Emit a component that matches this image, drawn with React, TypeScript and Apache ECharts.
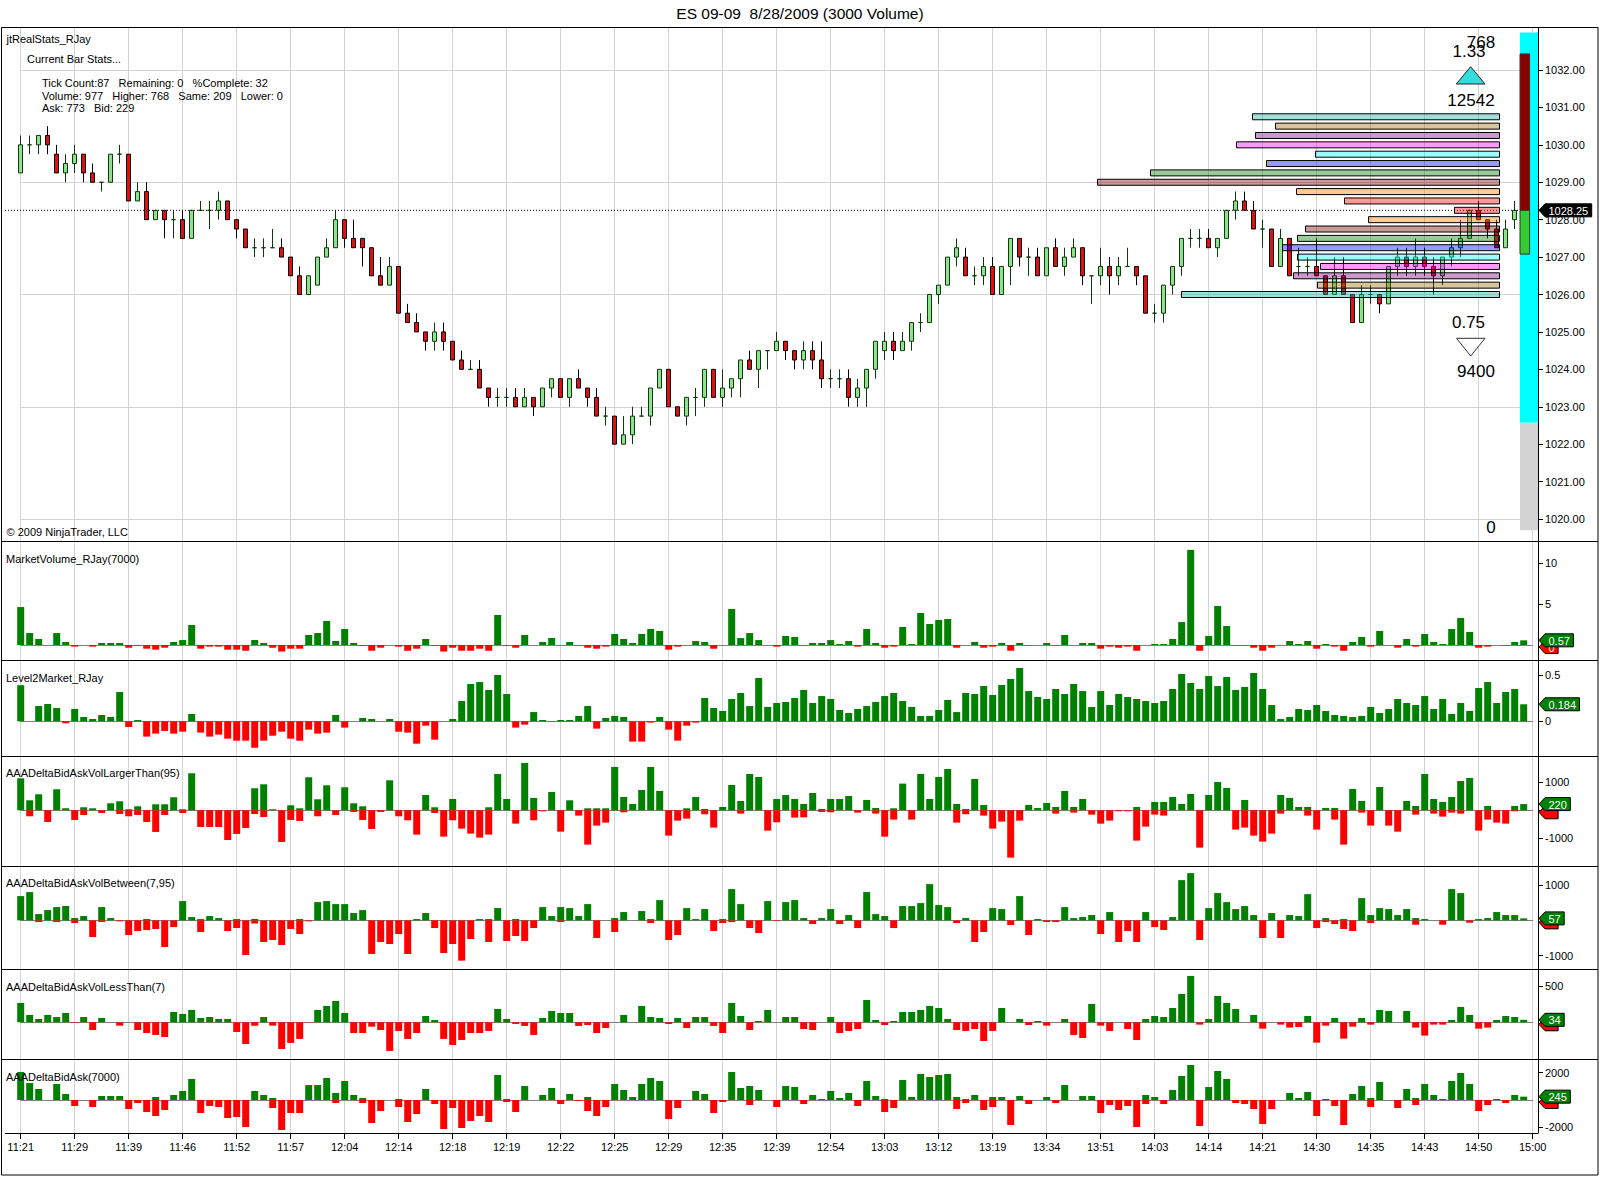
import React, { useEffect, useRef } from "react";
import * as echarts from "echarts";

// ---------- data ----------
const timeLabels = [
  "11:21", "11:29", "11:39", "11:46", "11:52", "11:57", "12:04", "12:14", "12:18", "12:19",
  "12:22", "12:25", "12:29", "12:35", "12:39", "12:54", "13:03", "13:12", "13:19", "13:34",
  "13:51", "14:03", "14:14", "14:21", "14:30", "14:35", "14:43", "14:50", "15:00",
];
const SLOT_COUNT = 169; // bar slots incl. the empty right-most one
const LABEL_EVERY = 6;

// [open, close, low, high]
const candles = [
  [1029.25,1030,1029.25,1030.25],[1030,1030,1029.75,1030.25],[1030,1030.25,1029.75,1030.25],[1030.25,1030,1029.75,1030.5],[1029.75,1029.25,1029.25,1030],
  [1029.25,1029.5,1029,1029.75],[1029.5,1029.75,1029.25,1030],[1029.75,1029.25,1029,1029.75],[1029.25,1029,1029,1029.5],[1029,1029,1028.75,1029],
  [1029,1029.75,1029,1029.75],[1029.75,1029.75,1029.5,1030],[1029.75,1028.5,1028.5,1029.75],[1028.5,1028.75,1028.5,1029],[1028.75,1028,1028,1029],
  [1028,1028.25,1028,1028.25],[1028.25,1028,1027.5,1028.25],[1028,1028,1027.5,1028.25],[1028,1027.5,1027.5,1028.25],[1027.5,1028.25,1027.5,1028.25],
  [1028.25,1028.25,1028.25,1028.5],[1028.25,1028.25,1027.75,1028.5],[1028.25,1028.5,1028,1028.75],[1028.5,1028,1028,1028.5],[1028,1027.75,1027.5,1028],
  [1027.75,1027.25,1027.25,1027.75],[1027.25,1027.25,1027,1027.5],[1027.25,1027.25,1027,1027.5],[1027.25,1027.25,1027.25,1027.75],[1027.25,1027,1027,1027.5],
  [1027,1026.5,1026.5,1027],[1026.5,1026,1026,1026.75],[1026,1026.5,1026,1026.5],[1026.25,1027,1026.25,1027],[1027,1027.25,1027,1027.5],
  [1027.25,1028,1027.25,1028.25],[1028,1027.5,1027.25,1028],[1027.5,1027.25,1027.25,1028],[1027.5,1027.25,1026.75,1027.5],[1027.25,1026.5,1026.5,1027.25],
  [1026.5,1026.25,1026.25,1027],[1026.25,1026.75,1026.25,1027],[1026.75,1025.5,1025.5,1026.75],[1025.5,1025.25,1025.25,1025.75],[1025.25,1025,1025,1025.5],
  [1025,1024.75,1024.5,1025],[1024.75,1025,1024.5,1025.25],[1025,1024.75,1024.5,1025.25],[1024.75,1024.25,1024.25,1024.75],[1024.25,1024,1024,1024.5],
  [1024,1024,1024,1024.25],[1024,1023.5,1023.5,1024.25],[1023.5,1023.25,1023,1023.5],[1023.25,1023.25,1023,1023.5],[1023.25,1023.25,1023,1023.5],
  [1023.25,1023,1023,1023.5],[1023,1023.25,1023,1023.5],[1023.25,1023,1022.75,1023.25],[1023,1023.5,1023,1023.5],[1023.5,1023.75,1023.25,1023.75],
  [1023.75,1023.25,1023.25,1023.75],[1023.25,1023.75,1023,1023.75],[1023.75,1023.5,1023.5,1024],[1023.5,1023.25,1023,1023.5],[1023.25,1022.75,1022.75,1023.5],
  [1022.75,1022.75,1022.5,1023],[1022.75,1022,1022,1022.75],[1022,1022.25,1022,1022.75],[1022.25,1022.75,1022,1023],[1022.75,1022.75,1022.75,1023],
  [1022.75,1023.5,1022.5,1023.5],[1023.5,1024,1023.5,1024],[1024,1023,1023,1024],[1023,1022.75,1022.75,1023],[1022.75,1023.25,1022.5,1023.25],
  [1023.25,1023.25,1022.75,1023.5],[1023.25,1024,1023,1024],[1024,1023.25,1023.25,1024],[1023.25,1023.5,1023,1024],[1023.5,1023.75,1023.25,1023.75],
  [1023.75,1024.25,1023.25,1024.25],[1024.25,1024,1024,1024.5],[1024,1024.5,1023.5,1024.5],[1024.5,1024.5,1024,1024.5],[1024.5,1024.75,1024.5,1025],
  [1024.75,1024.5,1024.25,1024.75],[1024.5,1024.25,1024,1024.5],[1024.25,1024.5,1024,1024.75],[1024.5,1024.25,1024,1024.75],[1024.25,1023.75,1023.5,1024.75],
  [1023.75,1023.75,1023.5,1024],[1023.75,1023.75,1023.5,1024],[1023.75,1023.25,1023,1024],[1023.25,1023.5,1023,1023.75],[1023.5,1024,1023,1024],
  [1024,1024.75,1023.75,1024.75],[1024.5,1024.75,1024.25,1025],[1024.75,1024.5,1024.25,1025],[1024.5,1024.75,1024.5,1025],[1024.75,1025.25,1024.5,1025.25],
  [1025.25,1025.25,1025,1025.5],[1025.25,1026,1025.25,1026],[1026,1026.25,1025.75,1026.25],[1026.25,1027,1026.25,1027],[1027,1027.25,1026.75,1027.5],
  [1027,1026.5,1026.5,1027.25],[1026.5,1026.5,1026.25,1026.75],[1026.5,1026.75,1026.25,1027],[1026.75,1026,1026,1027],[1026,1026.75,1026,1026.75],
  [1026.75,1027.5,1026.25,1027.5],[1027.5,1027,1026.75,1027.5],[1027,1027,1026.5,1027.25],[1027,1026.5,1026.5,1027.25],[1026.5,1027.25,1026.5,1027.25],
  [1027.25,1026.75,1026.75,1027.5],[1026.75,1027,1026.5,1027.25],[1027,1027.25,1027,1027.5],[1027.25,1026.5,1026.25,1027.25],[1026.5,1026.5,1025.75,1026.5],
  [1026.5,1026.75,1026.25,1027.25],[1026.75,1026.5,1026,1027],[1026.5,1026.75,1026.25,1027],[1026.75,1026.75,1026.75,1027.25],[1026.75,1026.5,1026.25,1026.75],
  [1026.5,1025.5,1025.5,1026.5],[1025.5,1025.5,1025.25,1025.75],[1025.5,1026.25,1025.25,1026.25],[1026.25,1026.75,1026,1026.75],[1026.75,1027.5,1026.5,1027.5],
  [1027.5,1027.5,1027.25,1027.75],[1027.5,1027.5,1027.25,1027.75],[1027.5,1027.25,1027.25,1027.75],[1027.25,1027.5,1027,1027.5],[1027.5,1028.25,1027.5,1028.25],
  [1028.25,1028.5,1028,1028.75],[1028.5,1028.25,1028.25,1028.75],[1028.25,1027.75,1027.75,1028.5],[1027.75,1027.75,1027.25,1028],[1027.75,1026.75,1026.75,1027.75],
  [1026.75,1027.5,1026.75,1027.75],[1027.5,1026.5,1026.5,1027.5],[1026.75,1026.75,1026.5,1027.25],[1026.75,1026.75,1026.5,1027],[1026.75,1026.5,1026.5,1027.5],
  [1026.5,1026,1026,1026.5],[1026,1026.5,1026,1027],[1026.5,1026,1026,1027],[1026,1025.25,1025.25,1026],[1025.25,1026,1025.25,1026.25],
  [1026,1026,1025.75,1026.25],[1026,1025.75,1025.5,1026],[1025.75,1026.75,1025.75,1026.75],[1026.75,1027,1026.5,1027.25],[1027,1026.75,1026.5,1027.25],
  [1026.75,1027,1026.5,1027.5],[1027,1026.75,1026.5,1027.25],[1026.75,1026.5,1026,1027],[1026.5,1027,1026.25,1027],[1027,1027.25,1026.75,1027.5],
  [1027.25,1027.5,1027,1028],[1027.5,1028.25,1027.5,1028.25],[1028.25,1028,1028,1028.5],[1028,1027.75,1027.5,1028],[1027.75,1027.25,1027.25,1028],
  [1027.25,1027.75,1027.25,1028],[1028,1028.25,1027.75,1028.5],[1028.25,1028.25,1028.25,1028.25],
];
const lastPrice = 1028.25;

// volume-at-price profile (bottom -> top)
const profilePrices = [1026,1026.25,1026.5,1026.75,1027,1027.25,1027.5,1027.75,1028,1028.25,1028.5,1028.75,1029,1029.25,1029.5,1029.75,1030,1030.25,1030.5,1030.75];
const profileVolumes = [318,182,206,179,202,217,202,194,131,45,155,203,402,349,233,184,263,244,224,247];

// jtRealStats vertical gauge (price levels)
const gaugeTop = 1033.0;
const gaugeSplit = 1022.57;
const gaugeBottom = 1019.7;
const gaugeUpperTop = 1032.43;
const gaugeLowerBottom = 1027.08;

// indicator panels
const marketVolume = [
  4.63,1.46,0.73,0,1.46,0.37,-0.2,0,-0.2,0.25,
  0.25,0.25,-0.33,-0.08,-0.45,-0.57,-0.33,0.37,0.6,2.44,
  -0.45,-0.2,-0.2,-0.57,-0.57,-0.7,0.6,0.25,-0.33,-0.8,
  -0.45,-0.45,1.22,1.46,2.93,0.49,1.95,0.25,-0.08,-0.7,
  -0.33,0,-0.2,-0.7,-0.45,0.73,-0.08,-0.8,-0.33,-0.7,
  -0.7,-0.45,-0.7,3.66,-0.08,-0.33,1.22,0,0.37,0.85,
  0,0.37,-0.05,-0.33,-0.45,-0.2,1.34,0.73,0.25,1.34,
  1.95,1.71,-0.57,-0.2,0,0.49,0.37,-0.45,0,4.39,
  0.85,1.46,0.6,0,-0.2,1.1,0.98,-0.05,0.25,0.25,
  0.6,0.12,0.49,-0.2,1.95,0.25,-0.33,-0.2,2.2,0.12,
  3.9,2.56,3.05,3.17,-0.33,0,0.37,-0.33,-0.2,0.25,
  -0.7,0.25,-0.05,0,0.25,-0.05,1.22,0,0.25,0.25,
  -0.45,-0.2,-0.33,-0.2,-0.7,0,0.12,0.12,0.73,2.8,
  11.6,-0.7,1.1,4.76,2.32,-0.05,-0.05,-0.33,-0.7,-0.33,
  0,0.49,0.12,0.49,-0.45,0.12,-0.2,-0.7,0.37,0.98,
  -0.2,1.71,0,-0.33,0.73,-0.2,1.34,0.37,0.12,1.95,
  3.29,1.59,-0.33,-0.2,0,-0.05,0.37,0.57,
];
const level2 = [
  0.39,0,0.165,0.187,0.144,-0.022,0.133,0.047,0.025,0.068,
  0.047,0.317,-0.061,0.014,-0.165,-0.133,-0.104,-0.133,-0.112,0.079,
  -0.122,-0.165,-0.144,-0.187,-0.209,-0.209,-0.284,-0.209,-0.155,-0.112,
  -0.187,-0.209,-0.09,-0.133,-0.122,0.068,-0.068,0,0.036,0.025,
  0,0.025,-0.112,-0.122,-0.241,-0.047,-0.198,0,0.025,0.219,
  0.403,0.424,0.338,0.5,0.295,-0.068,-0.036,0.1,0.014,-0.005,
  0.014,0.014,0.058,0.165,-0.079,0.036,0.058,0.047,-0.219,-0.219,
  -0.014,0.047,-0.09,-0.209,-0.047,-0.014,0.252,0.144,0.112,0.241,
  0.306,0.165,0.468,0.155,0.198,0.209,0.252,0.338,0.198,0.273,
  0.241,0.122,0.09,0.133,0.165,0.209,0.273,0.306,0.219,0.155,
  0.058,0.058,0.122,0.23,0.1,0.306,0.295,0.381,0.284,0.392,
  0.457,0.576,0.327,0.263,0.241,0.349,0.295,0.403,0.327,0.155,
  0.327,0.176,0.295,0.263,0.241,0.219,0.198,0.219,0.349,0.511,
  0.414,0.349,0.489,0.381,0.478,0.338,0.371,0.522,0.349,0.176,
  0.025,0.047,0.133,0.122,0.176,0.112,0.068,0.058,0.047,0.058,
  0.155,0.09,0.133,0.241,0.198,0.176,0.273,0.133,0.241,0.079,
  0.198,0.112,0.36,0.424,0.198,0.317,0.349,0.184,
];
const largerPos = [
  1136,355,568,0,746,71,0,107,71,0, 249,320,36,142,0,213,213,462,36,1314,
  0,0,0,0,0,0,781,923,36,0, 178,71,1172,391,888,0,817,249,142,0,
  0,1065,0,0,0,544,107,0,402,0, 0,0,107,1290,402,0,1680,438,0,651,
  0,355,0,71,71,71,1538,473,225,722, 1538,686,0,0,71,473,47,0,118,899,
  331,1290,1183,0,402,544,402,225,615,47, 402,402,509,0,367,83,0,71,947,0,
  1290,402,1183,1467,225,47,1112,189,0,0, 0,0,189,83,260,118,686,118,402,0,
  0,0,0,0,118,0,296,296,473,225, 580,0,544,1006,793,0,367,0,0,0,
  544,438,118,118,0,83,83,0,757,331, 0,828,0,0,331,154,1290,402,296,473,
  1041,1148,0,154,0,0,154,220,
];
const largerNeg = [
  0,-213,0,-414,0,0,-343,-166,0,-95, 0,-130,-213,-166,-414,-769,-166,0,-95,0,
  -592,-592,-592,-1054,-840,-627,-130,-237,0,-1124, -343,-379,0,-213,0,-166,0,-59,-343,-663,
  -59,0,-213,-355,-864,0,-95,-935,-355,-651, -828,-970,-864,0,0,-473,0,-355,-36,0,
  -757,0,-189,-1219,-544,-438,0,-71,0,0, 0,0,-899,-367,-296,0,-142,-615,0,0,
  -118,0,0,-722,-426,0,-260,-249,0,-59, -71,0,0,-83,0,-118,-935,-331,0,-331,
  0,0,0,0,-438,-142,0,-189,-651,-402, -1680,-367,0,0,0,-118,0,-83,0,-154,
  -473,-367,-36,-36,-1077,-580,-154,-189,0,0, 0,-1325,0,0,0,-686,-615,-899,-1112,-828,
  -118,0,0,-189,-686,0,-331,-1219,0,-83, -544,0,-544,-757,0,-154,0,-118,-225,-83,
  -118,0,-722,-331,-438,-473,-36,0,
];
const betweenPos = [
  689,802,179,292,377,406,66,123,0,377, 66,0,0,0,38,0,0,0,547,94,
  38,123,66,0,38,0,38,0,0,0, 0,38,0,519,547,462,462,208,292,0,
  0,0,0,0,38,208,0,0,0,0, 0,38,38,349,0,38,0,0,377,123,
  377,349,123,462,0,0,66,236,0,264, 38,575,0,0,349,38,321,0,38,887,
  462,0,0,547,0,519,575,66,0,66, 321,0,151,0,802,179,123,0,406,406,
  491,1028,434,377,0,66,0,0,349,321, 0,689,0,38,0,0,377,66,94,151,
  0,236,0,0,0,236,0,0,94,1142, 1340,0,349,774,519,321,406,151,0,208,
  0,151,123,745,0,66,0,38,0,632, 151,349,321,151,321,66,38,0,0,887,
  774,0,38,66,236,151,151,57,
];
const betweenNeg = [
  0,0,-47,0,-47,0,-75,0,-472,-47, 0,-28,-415,-302,-274,-245,-755,-189,0,0,
  -330,0,0,-302,-217,-981,-85,-613,-557,-698, -245,-387,-28,0,0,0,0,0,0,-953,
  -613,-670,-387,-953,0,0,-217,-925,-670,-1142, -528,0,-613,0,-585,-443,-585,-217,0,0,
  -47,0,0,0,-500,0,-330,0,0,0, -75,0,-557,-415,0,0,0,-302,-75,-47,
  0,-217,-358,0,-19,0,0,0,-104,0, 0,-104,0,-217,0,0,0,-217,0,0,
  0,0,0,0,-75,0,-613,-330,0,0, -132,0,-415,0,-47,-47,0,0,0,0,
  -387,0,-613,-302,-613,0,-189,-274,0,0, 0,-557,0,0,0,0,0,0,-500,0,
  -500,0,0,0,-217,-47,-104,-245,-302,0, -75,0,0,0,0,-123,0,0,-123,0,
  0,-66,0,0,0,0,0,0,
];
const lessThan = [
  266,101,46,101,73,128,-9,73,-106,60, 0,-46,0,-106,-147,-174,-202,142,115,170,
  60,73,46,46,-133,-298,-46,73,-46,-367, -284,-229,-5,170,225,294,128,-147,-147,-60,
  -106,-394,-119,-229,-147,87,32,-229,-312,-243, -147,-147,-119,183,46,-23,-50,-174,60,156,
  128,128,-50,-37,-147,-78,0,101,0,225, 73,60,-23,60,-78,73,73,-50,-147,266,
  87,-106,18,170,0,73,73,-92,-106,0, 73,-147,-119,-92,307,32,-37,18,142,142,
  170,225,197,46,-106,-119,-92,-257,-119,197, 0,46,-37,18,-46,0,46,-174,-216,252,
  -46,-119,0,-92,-243,46,87,73,197,390, 638,-32,46,362,266,183,0,101,-87,0,
  -32,-73,-64,87,-280,-46,60,-225,-60,60, -32,170,156,0,156,-73,-183,-32,-32,32,
  211,101,-87,-73,32,87,73,34,
];
const deltaPos = [
  2049,1244,805,0,1171,439,0,0,0,293, 293,293,0,0,0,220,0,366,659,1537,
  0,0,0,0,0,0,659,366,146,0, 0,0,1098,1098,1610,512,1390,366,146,0,
  0,0,73,0,0,805,0,0,0,0, 0,0,0,1829,73,0,1024,0,366,878,
  0,439,0,220,0,0,1171,732,220,1171, 1610,1390,0,0,0,659,439,0,0,2049,
  878,1024,732,0,0,1024,951,0,366,73, 659,146,512,0,1390,293,73,0,1463,220,
  1902,1683,1829,1902,220,73,366,0,220,220, 0,293,0,0,220,0,1098,0,293,293,
  0,0,0,0,0,366,220,0,732,1756, 2561,0,951,2122,1537,0,0,0,0,0,
  0,512,146,585,0,73,0,0,439,1024, 146,1317,0,0,805,146,1171,366,73,1390,
  1976,1171,0,0,73,0,366,245,
];
const deltaNeg = [
  0,0,0,0,0,0,-439,0,-512,0, 0,0,-659,-220,-878,-1171,-732,0,0,0,
  -951,-439,-512,-1317,-1244,-1976,0,0,-585,-2195, -951,-951,0,0,0,-220,0,0,-220,-1683,
  -805,0,-512,-1610,-1024,0,-293,-2122,-585,-2049, -1537,-1171,-1610,0,-146,-878,0,0,0,0,
  -293,0,-73,-805,-1171,-512,0,0,0,0, 0,0,-1390,-585,0,0,0,-951,-146,0,
  0,-366,0,0,-512,0,0,-293,0,0, 0,0,0,-439,0,0,-878,-585,0,0,
  0,0,0,0,-659,-220,0,-732,-512,0, -1829,0,-293,0,0,-220,0,0,0,0,
  -951,-366,-732,-439,-1976,-293,0,-293,0,0, 0,-1902,0,0,0,-220,-293,-659,-1756,-659,
  0,0,0,0,-1171,0,-439,-1829,0,0, -512,0,0,-585,0,-366,0,0,0,0,
  0,0,-805,-366,0,-220,0,0,
];

// ---------- styling / layout ----------
const FONT = '"Liberation Sans", Arial, sans-serif';
const GREEN = "#008000";
const RED = "#ff0000";
const GRID_LEFT = 20.7;
const GRID_RIGHT = 67.3;
const AXIS_X = 1538;
const AXIS_OFFSET = 5.3;
const LABEL_MARGIN = 7;
const profilePalette = [
  "rgba(32,178,170,0.42)", "rgba(153,102,0,0.38)", "rgba(128,0,128,0.4)", "rgba(255,0,255,0.4)", "rgba(0,255,255,0.4)",
  "rgba(0,0,255,0.4)", "rgba(0,128,0,0.4)", "rgba(128,0,0,0.4)", "rgba(255,128,0,0.4)", "rgba(255,0,0,0.4)",
];

type PanelDef = { top: number; height: number; min: number; max: number; labels: number[]; name: string; labelY: number };
const panels: PanelDef[] = [
  { top: 541, height: 119, min: -1.829, max: 12.683, labels: [5, 10], name: "MarketVolume_RJay(7000)", labelY: 559.3 },
  { top: 660, height: 95.5, min: -0.369, max: 0.662, labels: [0, 0.5], name: "Level2Market_RJay", labelY: 678.3 },
  { top: 755.5, height: 110, min: -1960, max: 1945, labels: [-1000, 0, 1000], name: "AAADeltaBidAskVolLargerThan(95)", labelY: 773.3 },
  { top: 865.5, height: 103, min: -1364, max: 1556, labels: [-1000, 1000], name: "AAADeltaBidAskVolBetween(7,95)", labelY: 883.3 },
  { top: 968.5, height: 90, min: -498, max: 740, labels: [500], name: "AAADeltaBidAskVolLessThan(7)", labelY: 986.7 },
  { top: 1058.5, height: 74.5, min: -2414, max: 3036, labels: [-2000, 2000], name: "AAADeltaBidAsk(7000)", labelY: 1076.7 },
];

const categories = Array.from({ length: SLOT_COUNT }, (_, i) => String(i));
const isLabelSlot = (i: number) => i % LABEL_EVERY === 0;

function textW(t: string) {
  let w = 0;
  for (const ch of t) w += ch === "." ? 3.1 : ch === "-" ? 3.7 : 6.1;
  return w;
}

function valueBox(y: number, text: string, fill: string, z: number, showText = true) {
  const w = textW(text) + 7;
  const h = 6.5;
  const children: any[] = [
    {
      type: "polygon",
      z,
      shape: { points: [[0, 0], [6, -h], [6 + w, -h], [6 + w, h], [6, h]] },
      style: { fill, stroke: "#000", lineWidth: 1 },
    },
  ];
  if (showText) {
    children.push({
      type: "text",
      z: z + 1,
      x: 6 + w / 2,
      y: 0.5,
      style: { text, fill: "#fff", font: `11px ${FONT}`, align: "center", verticalAlign: "middle" },
    });
  }
  return { type: "group", x: AXIS_X + 1, y, children };
}

function txt(x: number, y: number, text: string, size = 11, align = "left", color = "#000") {
  return {
    type: "text",
    x,
    y,
    z: 50,
    style: { text, fill: color, font: `${size}px ${FONT}`, align, verticalAlign: "middle" },
  };
}

function hline(x1: number, x2: number, y: number, color = "#000", z = 60) {
  return { type: "line", z, shape: { x1, y1: y, x2, y2: y }, style: { stroke: color, lineWidth: 1 } };
}

export default function App() {
  const ref = useRef<HTMLDivElement>(null);

  useEffect(() => {
    if (!ref.current) return;
    const chart = echarts.init(ref.current, null, { renderer: "svg", width: 1600, height: 1177 });

    const grids: any[] = [
      { left: GRID_LEFT, right: GRID_RIGHT, top: 27, height: 1106 },
      { left: GRID_LEFT, right: GRID_RIGHT, top: 70, height: 449 },
      { left: 999.5, right: 100.5, top: 70, height: 449 },
      ...panels.map((p) => ({ left: GRID_LEFT, right: GRID_RIGHT, top: p.top, height: p.height })),
    ].map((g) => ({ ...g, containLabel: false, outerBoundsMode: "none" }));

    const xAxes: any[] = [
      {
        type: "category", gridIndex: 0, data: categories, boundaryGap: false,
        axisLine: { show: false },
        axisTick: { show: true, interval: (i: number) => isLabelSlot(i), length: 6, lineStyle: { color: "#000" } },
        axisLabel: {
          interval: (i: number) => isLabelSlot(i), margin: 8, color: "#000", fontSize: 11, fontFamily: FONT,
          formatter: (_v: string, i: number) => timeLabels[i / LABEL_EVERY] ?? "",
        },
        splitLine: { show: true, interval: (i: number) => isLabelSlot(i), lineStyle: { color: "#d2d2d2", width: 1 } },
      },
      { type: "category", gridIndex: 1, data: categories, boundaryGap: false, show: false },
      { type: "value", gridIndex: 2, min: 0, max: 500, inverse: true, show: false },
      ...panels.map((_, k) => ({
        type: "category", gridIndex: 3 + k, data: categories, boundaryGap: false,
        axisLine: { show: true, onZero: true, lineStyle: { color: "#808080", width: 1 } },
        axisTick: { show: false }, axisLabel: { show: false }, splitLine: { show: false },
      })),
    ];

    const yAxes: any[] = [
      { type: "value", gridIndex: 0, min: 0, max: 1, show: false },
      {
        type: "value", gridIndex: 1, min: 1020, max: 1032, interval: 1, position: "right", offset: AXIS_OFFSET,
        axisLine: { show: false }, splitLine: { show: false },
        axisTick: { show: true, length: 5, lineStyle: { color: "#000" } },
        axisLabel: { color: "#000", fontSize: 11, fontFamily: FONT, margin: LABEL_MARGIN, formatter: (v: number) => v.toFixed(2) },
      },
      {
        type: "value", gridIndex: 1, min: 1020, max: 1032, interval: 3, position: "left",
        axisLine: { show: false }, axisTick: { show: false }, axisLabel: { show: false },
        splitLine: { show: true, lineStyle: { color: "#d2d2d2", width: 1 } },
      },
      { type: "value", gridIndex: 2, min: 1020, max: 1032, show: false },
      ...panels.map((p, k) => ({
        type: "value", gridIndex: 3 + k, min: p.min, max: p.max, position: "right", offset: AXIS_OFFSET,
        axisLine: { show: false }, splitLine: { show: false },
        axisTick: { show: true, length: 5, customValues: p.labels, lineStyle: { color: "#000" } },
        axisLabel: { color: "#000", fontSize: 11, fontFamily: FONT, margin: LABEL_MARGIN, customValues: p.labels, formatter: (v: number) => String(v) },
      })),
    ];

    const signedBars = (vals: number[], k: number) => ({
      type: "bar", xAxisIndex: 3 + k, yAxisIndex: 4 + k, barWidth: 7, silent: true,
      data: vals.map((v) => ({ value: v, itemStyle: { color: v >= 0 ? GREEN : RED } })),
    });
    const splitBars = (pos: number[], neg: number[], k: number) => [
      { type: "bar", xAxisIndex: 3 + k, yAxisIndex: 4 + k, barWidth: 7, barGap: "-100%", silent: true, itemStyle: { color: GREEN }, data: pos },
      { type: "bar", xAxisIndex: 3 + k, yAxisIndex: 4 + k, barWidth: 7, barGap: "-100%", silent: true, itemStyle: { color: RED }, data: neg },
    ];

    const series: any[] = [
      {
        type: "candlestick", xAxisIndex: 1, yAxisIndex: 1, barWidth: 5, silent: true, z: 3,
        itemStyle: { color: "#8fe08f", color0: "#dd1111", borderColor: "#0b3b0b", borderColor0: "#000", borderWidth: 1 },
        data: candles,
      },
      {
        type: "custom", xAxisIndex: 2, yAxisIndex: 3, silent: true, clip: false, z: 6,
        data: profilePrices.map((p, k) => [profileVolumes[k], p, k]),
        renderItem: (_params: any, api: any) => {
          const vol = api.value(0);
          const price = api.value(1);
          const k = api.value(2);
          const a = api.coord([vol, price]);
          const b = api.coord([0, price]);
          const idx = k < 10 ? k : 19 - k;
          return {
            type: "rect",
            shape: { x: Math.min(a[0], b[0]), y: a[1] - 3, width: Math.abs(b[0] - a[0]), height: 6 },
            style: { fill: profilePalette[idx], stroke: "#000", lineWidth: 1 },
          };
        },
      },
      signedBars(marketVolume, 0),
      signedBars(level2, 1),
      ...splitBars(largerPos, largerNeg, 2),
      ...splitBars(betweenPos, betweenNeg, 3),
      ...splitBars(lessThan.map((v) => (v > 0 ? v : 0)), lessThan.map((v) => (v < 0 ? v : 0)), 4),
      ...splitBars(deltaPos, deltaNeg, 5),
    ];

    const staticGraphics: any[] = [
      txt(800, 13.5, "ES 09-09\u00a0\u00a08/28/2009 (3000 Volume)", 15.5, "center"),
      { type: "rect", z: 60, shape: { x: 1.5, y: 27.5, width: 1596.5, height: 1147.5 }, style: { fill: "none", stroke: "#000", lineWidth: 1 } },
      ...panels.map((p) => hline(1.5, 1598, Math.round(p.top) + 0.5)),
      hline(5, AXIS_X, 1133.5),
      { type: "line", z: 60, shape: { x1: AXIS_X + 0.5, y1: 27.5, x2: AXIS_X + 0.5, y2: 1133.5 }, style: { stroke: "#000", lineWidth: 1 } },
      ...panels.map((p) => txt(6, p.labelY, p.name)),
      txt(6.5, 39, "jtRealStats_RJay"),
      txt(27, 59, "Current Bar Stats..."),
      txt(42, 83, "Tick Count:87\u00a0\u00a0 Remaining: 0\u00a0\u00a0 %Complete: 32"),
      txt(42, 95.5, "Volume: 977\u00a0\u00a0 Higher: 768\u00a0\u00a0 Same: 209\u00a0\u00a0 Lower: 0"),
      txt(42, 108, "Ask: 773\u00a0\u00a0 Bid: 229"),
      txt(6.5, 532, "\u00a9 2009 NinjaTrader, LLC"),
      txt(1481, 42.5, "768", 17, "center"),
      txt(1469, 51.7, "1.33", 17, "center"),
      { type: "polygon", z: 50, shape: { points: [[1470.6, 66.7], [1485, 84], [1456.3, 84]] }, style: { fill: "#33dddd", stroke: "#222", lineWidth: 1 } },
      txt(1471, 100, "12542", 17, "center"),
      txt(1468.5, 322, "0.75", 17, "center"),
      { type: "polygon", z: 50, shape: { points: [[1456.5, 338.3], [1485, 338.3], [1470.7, 356]] }, style: { fill: "#fff", stroke: "#333", lineWidth: 1 } },
      txt(1476, 371.5, "9400", 17, "center"),
      txt(1491, 527.5, "0", 17, "center"),
    ];

    chart.setOption({
      animation: false,
      backgroundColor: "#fff",
      textStyle: { fontFamily: FONT },
      grid: grids,
      xAxis: xAxes,
      yAxis: yAxes,
      series,
      graphic: { elements: staticGraphics },
    });

    // dynamic graphics positioned through the axes
    const yMain = (v: number) => chart.convertToPixel({ yAxisIndex: 1 }, v) as number;
    const yPanel = (k: number, v: number) => chart.convertToPixel({ yAxisIndex: 4 + k }, v) as number;
    const lastIdx = candles.length - 1;
    const gx = (chart.convertToPixel({ xAxisIndex: 1 }, lastIdx) as number) - 3.7;

    const rect = (x: number, y1: number, y2: number, w: number, fill: string, stroke?: string) => ({
      type: "rect", z: 70,
      shape: { x, y: Math.min(y1, y2), width: w, height: Math.abs(y2 - y1) },
      style: { fill, stroke: stroke ?? "none", lineWidth: stroke ? 1 : 0 },
    });

    const dyn: any[] = [
      { type: "line", z: 4, shape: { x1: 5, y1: yMain(lastPrice), x2: AXIS_X, y2: yMain(lastPrice) }, style: { stroke: "#000", lineWidth: 1, lineDash: [1, 2] } },
      rect(gx, yMain(gaugeTop), yMain(gaugeSplit), AXIS_X - gx, "#00ffff"),
      rect(gx, yMain(gaugeSplit), yMain(gaugeBottom), AXIS_X - gx, "#d3d3d3"),
      rect(gx, yMain(gaugeUpperTop), yMain(lastPrice), 9.6, "#8b0000", "#333"),
      rect(gx, yMain(lastPrice), yMain(gaugeLowerBottom), 9.6, "#33cc33", "#333"),
      valueBox(yMain(lastPrice), lastPrice.toFixed(2), "#000", 80),
    ];
    const lastPos = [
      marketVolume[lastIdx], level2[lastIdx], largerPos[lastIdx], betweenPos[lastIdx], lessThan[lastIdx], deltaPos[lastIdx],
    ];
    const lastNeg = [
      Math.min(marketVolume[lastIdx], 0), null, largerNeg[lastIdx], betweenNeg[lastIdx], Math.min(lessThan[lastIdx], 0), deltaNeg[lastIdx],
    ];
    lastPos.forEach((v, k) => {
      const nv = lastNeg[k];
      if (nv !== null) dyn.push(valueBox(yPanel(k, nv) + 2, String(Math.round(nv)), RED, 80, k === 0));
      dyn.push(valueBox(yPanel(k, v), String(v), GREEN, 82));
    });

    chart.setOption({ graphic: { elements: [...staticGraphics, ...dyn] } });

    return () => chart.dispose();
  }, []);

  return (
    <div
      ref={ref}
      style={{ position: "absolute", left: 0, top: 0, width: 1600, height: 1177, background: "#fff" }}
    />
  );
}
